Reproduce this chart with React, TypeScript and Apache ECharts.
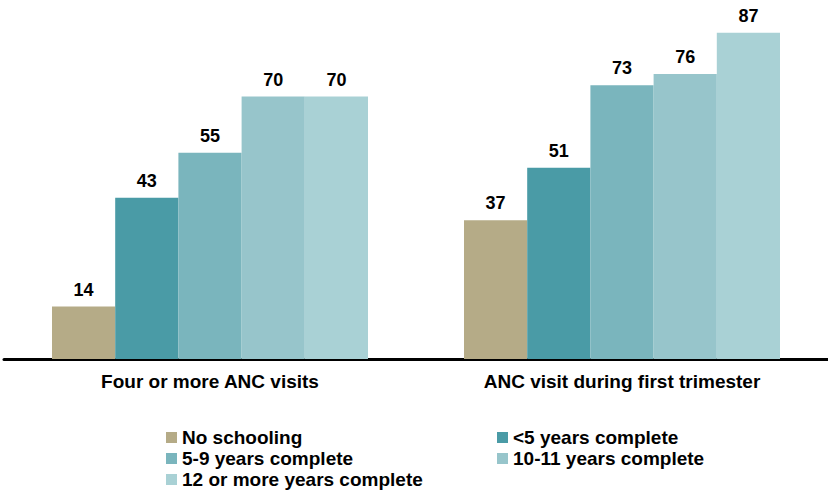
import React, { useEffect, useRef } from "react";
import * as echarts from "echarts";

const categories = ["Four or more ANC visits", "ANC visit during first trimester"];
const seriesNames = [
  "No schooling",
  "<5 years complete",
  "5-9 years complete",
  "10-11 years complete",
  "12 or more years complete",
];
const noSchooling = [14, 37];
const lt5Years = [43, 51];
const years5to9 = [55, 73];
const years10to11 = [70, 76];
const years12plus = [70, 87];
const colors = ["#B5AB87", "#4A9BA6", "#7AB5BD", "#97C5CB", "#A9D1D5"];

export default function App() {
  const ref = useRef<HTMLDivElement>(null);
  useEffect(() => {
    if (!ref.current) return;
    const chart = echarts.init(ref.current, null, { renderer: "svg" });
    const values = [noSchooling, lt5Years, years5to9, years10to11, years12plus];
    const font = "'Liberation Sans', Arial, sans-serif";
    const legendBase = {
      orient: "vertical",
      top: 428,
      padding: 0,
      itemWidth: 11,
      itemHeight: 11,
      itemGap: 2,
      icon: "rect",
      textStyle: { color: "#000", fontSize: 19, fontWeight: "bold", fontFamily: font },
    };
    chart.setOption({
      animation: false,
      backgroundColor: "#ffffff",
      grid: { left: 4, right: 0, top: 21.5, bottom: 132, containLabel: false },
      xAxis: {
        type: "category",
        data: categories,
        axisLine: { show: true, lineStyle: { color: "#000", width: 3 } },
        axisTick: { show: false },
        axisLabel: {
          margin: 13,
          color: "#000",
          fontSize: 19,
          fontWeight: "bold",
          fontFamily: font,
        },
      },
      yAxis: {
        type: "value",
        min: 0,
        max: 90,
        show: false,
        splitLine: { show: false },
      },
      legend: [
        { ...legendBase, data: [seriesNames[0], seriesNames[2], seriesNames[4]], left: 166 },
        { ...legendBase, data: [seriesNames[1], seriesNames[3]], left: 497 },
      ],
      series: seriesNames.map((name, i) => ({
        name,
        type: "bar",
        data: values[i],
        barGap: "0%",
        barCategoryGap: "23.3%",
        itemStyle: { color: colors[i] },
        label: {
          show: true,
          position: "top",
          distance: 8,
          color: "#000",
          fontSize: 18,
          fontWeight: "bold",
          fontFamily: font,
        },
      })),
    });
    return () => chart.dispose();
  }, []);
  return (
    <div
      ref={ref}
      style={{ position: "fixed", left: 0, top: 0, width: 828, height: 491 }}
    />
  );
}
